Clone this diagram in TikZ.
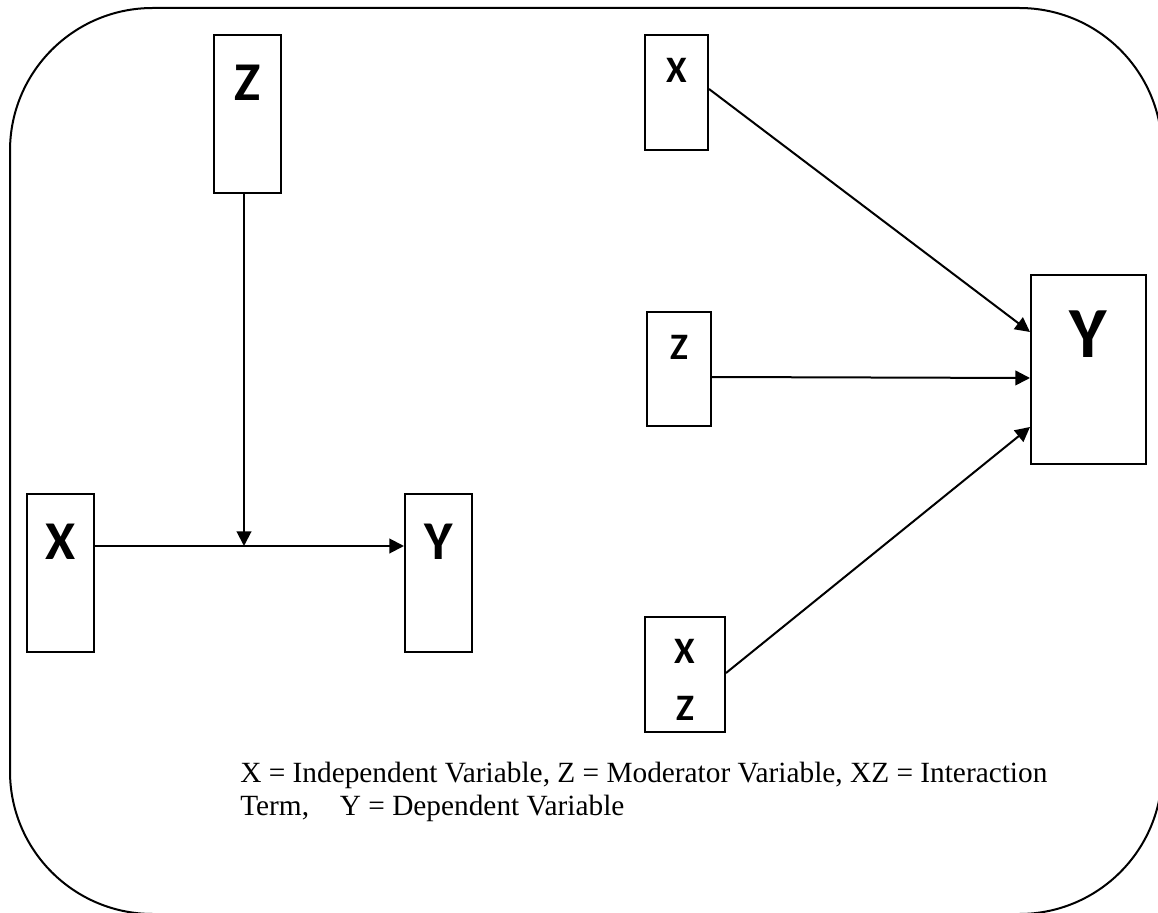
\documentclass[tikz,border=0pt]{standalone}
\usepackage{fontspec}
\setmainfont{Liberation Serif}
\newfontfamily\varfont{Carlito}
\usetikzlibrary{positioning,calc,arrows.meta}

\begin{document}
\begin{tikzpicture}[x=0.75pt,y=-0.75pt]
	\tikzstyle{var_box}=[draw, rectangle, line width=1.5pt, inner sep=0pt, fill=white];
	\tikzstyle{var_big}=[font=\varfont\bfseries\fontsize{41}{41}\selectfont, inner sep=0pt];
	\tikzstyle{var_small}=[font=\varfont\bfseries\fontsize{28}{28}\selectfont, inner sep=0pt];
	\tikzstyle{link}=[line width=1.5pt, -{Triangle[length=11pt,width=11pt]}];

	\path[use as bounding box, clip] (0,0) rectangle (1158,913);
	\draw[line width=1.5pt, rounded corners=107pt] (10,8) rectangle (1162,914);

	% moderator acting on the X -> Y path
	\node[var_box, minimum width=50.25pt, minimum height=118.5pt] (z_mod) at (247.5,114) {};
	\node[var_box, minimum width=50.25pt, minimum height=118.5pt] (x_mod) at (60.5,573) {};
	\node[var_box, minimum width=50.25pt, minimum height=118.5pt] (y_mod) at (438.5,573) {};
	\node[var_big] at ($(z_mod.north)+(0,49)$) {Z};
	\node[var_big] at ($(x_mod.north)+(0,49)$) {X};
	\node[var_big] at ($(y_mod.north)+(0,49)$) {Y};

	\coordinate (meet) at (244,546);
	\draw[link] (x_mod.east |- meet) to (y_mod.west |- meet);
	\draw[link] (z_mod.south -| meet) to (meet);

	% regression with interaction term
	\node[var_box, minimum width=47.25pt, minimum height=86.25pt] (x_reg) at (676.5,92.5) {};
	\node[var_box, minimum width=48pt, minimum height=85.5pt] (z_reg) at (679,369) {};
	\node[var_box, minimum width=60pt, minimum height=86.25pt] (xz_reg) at (685,674.5) {};
	\node[var_box, minimum width=86.25pt, minimum height=141.75pt] (y_reg) at (1088.5,369.5) {};
	\node[var_small] at ($(x_reg.north)+(0,36)$) {X};
	\node[var_small] at ($(z_reg.north)+(0,36)$) {Z};
	\node[var_small] at ($(xz_reg.north)+(0,35)$) {X};
	\node[var_small] at ($(xz_reg.north)+(0,92)$) {Z};
	\node[var_big, font=\varfont\bfseries\fontsize{54}{54}\selectfont] at ($(y_reg.north)+(0,60)$) {Y};

	\draw[link] ($(x_reg.east)+(0,-3.5)$) to ($(y_reg.west)+(0,-37.5)$);
	\draw[link] ($(z_reg.east)+(0,8)$) to ($(y_reg.west)+(0,8.5)$);
	\draw[link] ($(xz_reg.east)+(0,-1.5)$) to ($(y_reg.west)+(0,57.5)$);

	\node[align=left, anchor=north west, inner sep=0pt, font=\fontsize{22}{24.75}\selectfont] (legend) at (240,762)
		{X = Independent Variable, Z = Moderator Variable, XZ = Interaction\\Term,\hspace{0.8em} Y = Dependent Variable};
\end{tikzpicture}
\end{document}
